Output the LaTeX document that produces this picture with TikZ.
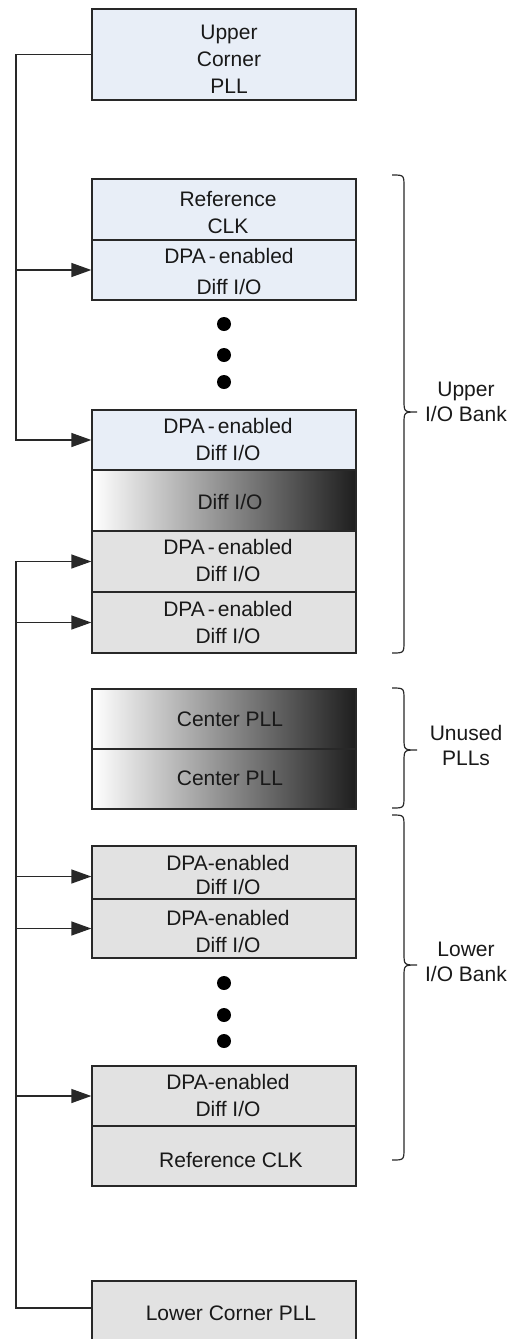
\documentclass[tikz,border=0pt]{standalone}
\usepackage{fontspec}
\setmainfont{Liberation Sans}
\usetikzlibrary{arrows.meta}
\definecolor{bluefill}{RGB}{232,238,247}
\definecolor{grayfill}{RGB}{226,226,226}
\definecolor{edgecol}{RGB}{40,40,40}
\definecolor{txtcol}{RGB}{25,25,25}
\definecolor{darkend}{RGB}{30,30,30}
\newcommand\mybrace[4]{%
  \draw[brc] (#1,#2) .. controls (#1+12,#2) .. (#1+12,#2+12) -- (#1+12,#3-12)
    .. controls (#1+12,#3) .. (#1+25,#3) .. controls (#1+12,#3) .. (#1+12,#3+12)
    -- (#1+12,#4-12) .. controls (#1+12,#4) .. (#1,#4);}
\newcommand\dpa{DPA\hspace{3pt}-\hspace{3pt}enabled}
\begin{document}
\begin{tikzpicture}[x=1pt,y=-1pt,
  box/.style={draw=edgecol, line width=1.3pt, minimum width=264pt, inner sep=0pt, anchor=center},
  bluebox/.style={box, fill=bluefill},
  graybox/.style={box, fill=grayfill},
  gradbox/.style={box, left color=white, right color=darkend},
  tx/.style={align=center, text=txtcol, inner sep=0pt, font=\fontsize{21}{27}\selectfont},
  conn/.style={draw=edgecol, line width=1.3pt},
  arr/.style={conn, -{Triangle[length=20pt,width=14pt]}},
  blackdot/.style={circle, fill=black, minimum size=14pt, inner sep=0pt},
  brc/.style={draw=edgecol, line width=1.2pt},
  lbl/.style={align=center, text=txtcol, font=\fontsize{21}{25}\selectfont}
]
\useasboundingbox (0,0) rectangle (525,1339);
\clip (0,0) rectangle (525,1339);

% boxes
\node[bluebox, minimum height=91pt] (uc) at (224,54.5) {};
\node[bluebox, minimum height=61pt] (rc1) at (224,209.5) {};
\node[bluebox, minimum height=60pt] (d1) at (224,270) {};
\node[bluebox, minimum height=60pt] (d2) at (224,440) {};
\node[gradbox, minimum height=61pt] (g1) at (224,500.5) {};
\node[graybox, minimum height=61pt] (d3) at (224,561.5) {};
\node[graybox, minimum height=61pt] (d4) at (224,622.5) {};
\node[gradbox, minimum height=60pt] (c1) at (224,719) {};
\node[gradbox, minimum height=60pt] (c2) at (224,779) {};
\node[graybox, minimum height=53pt] (d5) at (224,872.5) {};
\node[graybox, minimum height=59pt] (d6) at (224,928.5) {};
\node[graybox, minimum height=60pt] (d7) at (224,1096) {};
\node[graybox, minimum height=60pt] (rc2) at (224,1156) {};
\node[graybox, minimum height=61pt] (lc) at (224,1311.5) {};

% texts
\node[tx] (uct) at (229,59.5) {Upper\\Corner\\PLL};
\node[tx] (rc1t) at (228,212) {Reference\\CLK};
\node[tx] (d1t) at (229,271) {\dpa\\[4pt]Diff I/O};
\node[tx] (d2t) at (228,439.5) {\dpa\\Diff I/O};
\node[tx] (g1t) at (230,502) {Diff I/O};
\node[tx] (d3t) at (228,560.5) {\dpa\\Diff I/O};
\node[tx] (d4t) at (228,622) {\dpa\\Diff I/O};
\node[tx] (c1t) at (230,719) {Center PLL};
\node[tx] (c2t) at (230,778) {Center PLL};
\node[tx, font=\fontsize{21}{24}\selectfont] (d5t) at (228,875) {DPA-enabled\\Diff I/O};
\node[tx] (d6t) at (228,931) {DPA-enabled\\Diff I/O};
\node[tx] (d7t) at (228,1095) {DPA-enabled\\Diff I/O};
\node[tx] (rc2t) at (231,1160) {Reference CLK};
\node[tx] (lct) at (231,1313) {Lower Corner PLL};

% dots
\node[blackdot] (p1) at (224,324) {};
\node[blackdot] (p2) at (224,355) {};
\node[blackdot] (p3) at (224,382) {};
\node[blackdot] (p4) at (224,983) {};
\node[blackdot] (p5) at (224,1015) {};
\node[blackdot] (p6) at (224,1041) {};

% bus
\coordinate (bu) at (16,0);
\draw[arr] (uc.west) -- (uc.west -| bu) |- (d2.west);
\draw[arr] (d1.west -| bu) -- (d1.west);
\draw[arr] ([yshift=3.5pt]lc.west) -- ([yshift=3.5pt]lc.west -| bu) |- (d3.west);
\draw[arr] (d4.west -| bu) -- (d4.west);
\draw[arr] ([yshift=-4pt]d5.west -| bu) -- ([yshift=-4pt]d5.west);
\draw[arr] (d6.west -| bu) -- (d6.west);
\draw[arr] (d7.west -| bu) -- (d7.west);

% braces
\mybrace{392}{175}{412}{653}
\mybrace{392}{688}{750}{808}
\mybrace{392}{815}{965}{1160}

\node[lbl] (lu) at (466,402) {Upper\\I/O Bank};
\node[lbl] (lp) at (466,745) {Unused\\PLLs};
\node[lbl] (ll) at (466,962) {Lower\\I/O Bank};
\end{tikzpicture}
\end{document}
